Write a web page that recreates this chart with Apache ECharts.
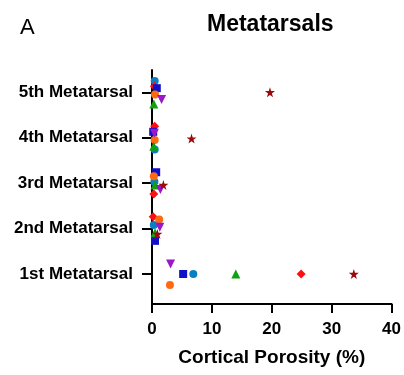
<!DOCTYPE html>
<html><head><meta charset="utf-8">
<script src="https://cdn.jsdelivr.net/npm/echarts@6/dist/echarts.min.js"></script>
<style>html,body{margin:0;padding:0;background:#fff}#c{width:404px;height:375px}</style>
</head><body><div id="c"></div>
<script>
var categories = ['1st Metatarsal','2nd Metatarsal','3rd Metatarsal','4th Metatarsal','5th Metatarsal'];
var xTicks = [0,10,20,30,40];
// x values (cortical porosity %) per specimen, ordered 1st..5th metatarsal
var blueCircleX   = [6.9, 0.3, 0.4, 0.45, 0.45];
var redDiamondX   = [24.9, 0.2, 0.3, 0.45, 0.4];
var blueSquareX   = [5.2, 0.5, 0.7, 0.2, 0.8];
var orangeCircleX = [3.0, 1.2, 0.3, 0.45, 0.5];
var greenTriX     = [14.0, 0.5, 0.5, 0.3, 0.3];
var purpleTriX    = [3.1, 1.3, 1.4, 0.4, 1.6];
var starX         = [33.7, 0.9, 1.9, 6.6, 19.7];
// vertical jitter (category units)
var blueCircleJ   = [0, 0.08, 0.03, -0.26, 0.25];
var redDiamondJ   = [0, 0.26, -0.24, 0.25, 0.13];
var blueSquareJ   = [0, -0.27, 0.24, 0.13, 0.09];
var orangeCircleJ = [-0.24, 0.2, 0.15, -0.05, -0.05];
var greenTriJ     = [0, -0.09, -0.04, -0.19, -0.26];
var purpleTriJ    = [0.22, 0.03, -0.14, 0.1, -0.16];
var starJ         = [0, -0.12, -0.04, -0.02, 0];

function pts(xs, js){ return xs.map(function(x,i){ return [x, i+1+js[i]]; }); }
var STAR = 'path://M50,0 L61.8,36.2 L100,36.2 L69.1,58.8 L80.9,95.1 L50,72.6 L19.1,95.1 L30.9,58.8 L0,36.2 L38.2,36.2 Z';
var TRIDOWN = 'path://M0,0 L10,0 L5,9 Z';
var specs = [
  {x: blueCircleX, j: blueCircleJ, c:'#0a80c0', s:'circle', size:8},
  {x: redDiamondX, j: redDiamondJ, c:'#ff1010', s:'diamond', size:9},
  {x: blueSquareX, j: blueSquareJ, c:'#1010c8', s:'rect', size:8},
  {x: orangeCircleX, j: orangeCircleJ, c:'#ff6a10', s:'circle', size:8},
  {x: greenTriX, j: greenTriJ, c:'#10a010', s:'triangle', size:9},
  {x: purpleTriX, j: purpleTriJ, c:'#9a18c8', s:TRIDOWN, size:9},
  {x: starX, j: starJ, c:'#9a0a0a', s:STAR, size:10}
];
var chart = echarts.init(document.getElementById('c'));
var FONT = '"Liberation Sans", Arial, sans-serif';
chart.setOption({
  animation:false,
  title:[
    {text:'Metatarsals', left:202, top:8, textStyle:{fontFamily:FONT, fontWeight:'bold', fontSize:23, color:'#000'}},
    {text:'A', left:15, top:12, textStyle:{fontFamily:FONT, fontWeight:'normal', fontSize:22, color:'#000'}}
  ],
  grid:{left:152, right:9, top:70, bottom:71},
  xAxis:{type:'value', min:0, max:40, interval:10,
    name:'Cortical Porosity (%)', nameLocation:'middle', nameGap:44,
    nameTextStyle:{fontFamily:FONT, fontWeight:'bold', fontSize:19, color:'#000'},
    axisLine:{show:true, lineStyle:{color:'#000', width:2}},
    axisTick:{show:true, length:9, lineStyle:{color:'#000', width:2}},
    axisLabel:{fontFamily:FONT, fontWeight:'bold', fontSize:17, color:'#000', margin:17},
    splitLine:{show:false}},
  yAxis:{type:'value', min:0.34, max:5.49,
    axisLine:{show:true, lineStyle:{color:'#000', width:2}},
    axisTick:{show:true, length:10, customValues:[1,2,3,4,5], lineStyle:{color:'#000', width:2}},
    axisLabel:{customValues:[1,2,3,4,5], margin:19, fontFamily:FONT, fontWeight:'bold', fontSize:17, color:'#000',
      formatter:function(v){ return categories[Math.round(v)-1]; }},
    splitLine:{show:false}},
  series: specs.map(function(sp){
    return {type:'scatter', symbol:sp.s, symbolSize:sp.size, itemStyle:{color:sp.c, opacity:1},
      data: pts(sp.x, sp.j)};
  })
});
</script></body></html>
